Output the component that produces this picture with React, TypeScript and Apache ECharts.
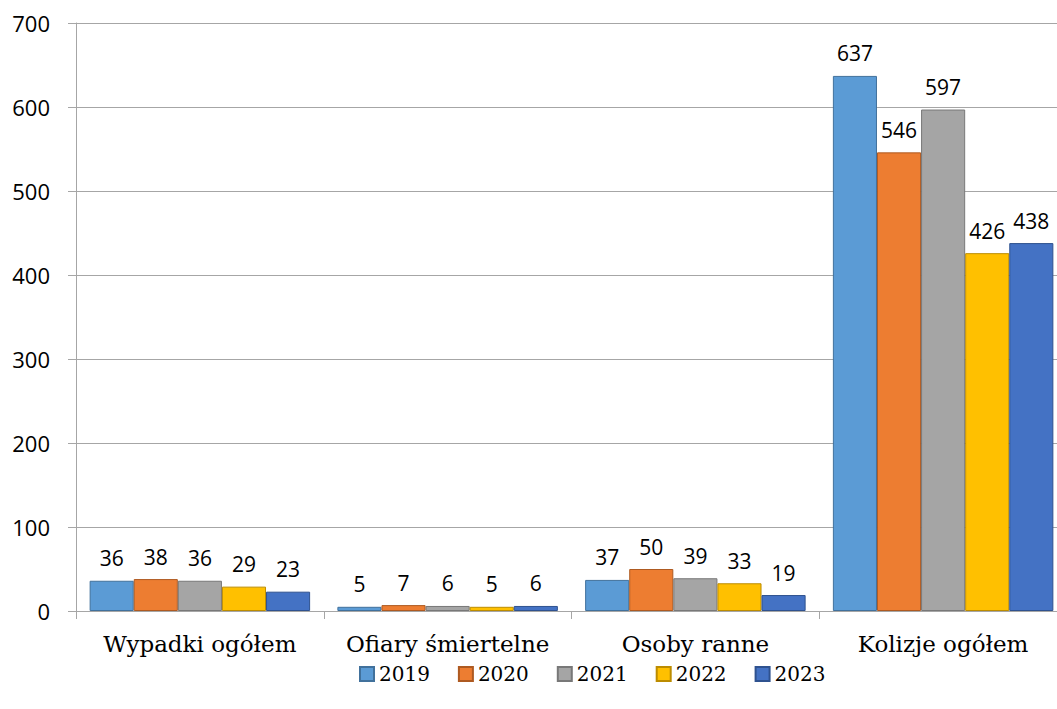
import React, { useEffect, useRef } from "react";
import * as echarts from "echarts";

const categories = ["Wypadki ogółem", "Ofiary śmiertelne", "Osoby ranne", "Kolizje ogółem"];
const years = ["2019", "2020", "2021", "2022", "2023"];
const v2019 = [36, 5, 37, 637];
const v2020 = [38, 7, 50, 546];
const v2021 = [36, 6, 39, 597];
const v2022 = [29, 5, 33, 426];
const v2023 = [23, 6, 19, 438];
const seriesValues = [v2019, v2020, v2021, v2022, v2023];
const fillColors = ["#5B9BD5", "#ED7D31", "#A5A5A5", "#FFC000", "#4472C4"];
const borderColors = ["#41719C", "#AE5A21", "#787878", "#BC8C00", "#2F528F"];

const sans = "'Open Sans', 'Noto Sans', sans-serif";
const serif = "'DejaVu Serif', 'Liberation Serif', serif";

export default function App() {
  const ref = useRef<HTMLDivElement>(null);
  useEffect(() => {
    if (!ref.current) return;
    const chart = echarts.init(ref.current, null, { renderer: "svg" });
    chart.setOption({
      animation: false,
      backgroundColor: "#ffffff",
      grid: { left: 76, right: 0, top: 23, bottom: 98, containLabel: false },
      legend: {
        data: years,
        bottom: 20,
        left: 354,
        itemWidth: 14,
        itemHeight: 14,
        itemGap: 28,
        icon: "rect",
        textStyle: { fontFamily: serif, fontSize: 20, color: "#000" },
      },
      xAxis: {
        type: "category",
        data: categories,
        axisLine: { show: true, lineStyle: { color: "#A6A6A6", width: 1 } },
        axisTick: { show: true, length: 8, lineStyle: { color: "#A6A6A6" } },
        axisLabel: { fontFamily: serif, fontSize: 23, color: "#000", margin: 21, interval: 0 },
      },
      yAxis: {
        type: "value",
        min: 0,
        max: 700,
        interval: 100,
        axisLine: { show: true, lineStyle: { color: "#A6A6A6", width: 1 } },
        axisTick: { show: true, length: 8, lineStyle: { color: "#A6A6A6" } },
        splitLine: { show: true, lineStyle: { color: "#A6A6A6", width: 1 } },
        axisLabel: { fontFamily: sans, fontSize: 22, color: "#000", margin: 26 },
      },
      series: years.map((y, i) => ({
        name: y,
        type: "bar",
        data: seriesValues[i],
        barGap: "0%",
        barCategoryGap: "11%",
        itemStyle: { color: fillColors[i], borderColor: borderColors[i], borderWidth: 1 },
        label: {
          show: true,
          position: "top",
          distance: 12,
          fontFamily: sans,
          fontSize: 21,
          color: "#000",
        },
      })),
    });
    return () => chart.dispose();
  }, []);
  return (
    <div style={{ position: "fixed", left: 0, top: 0, width: 1057, height: 709, overflow: "hidden" }}>
      <div ref={ref} style={{ width: 1067, height: 709 }} />
    </div>
  );
}
